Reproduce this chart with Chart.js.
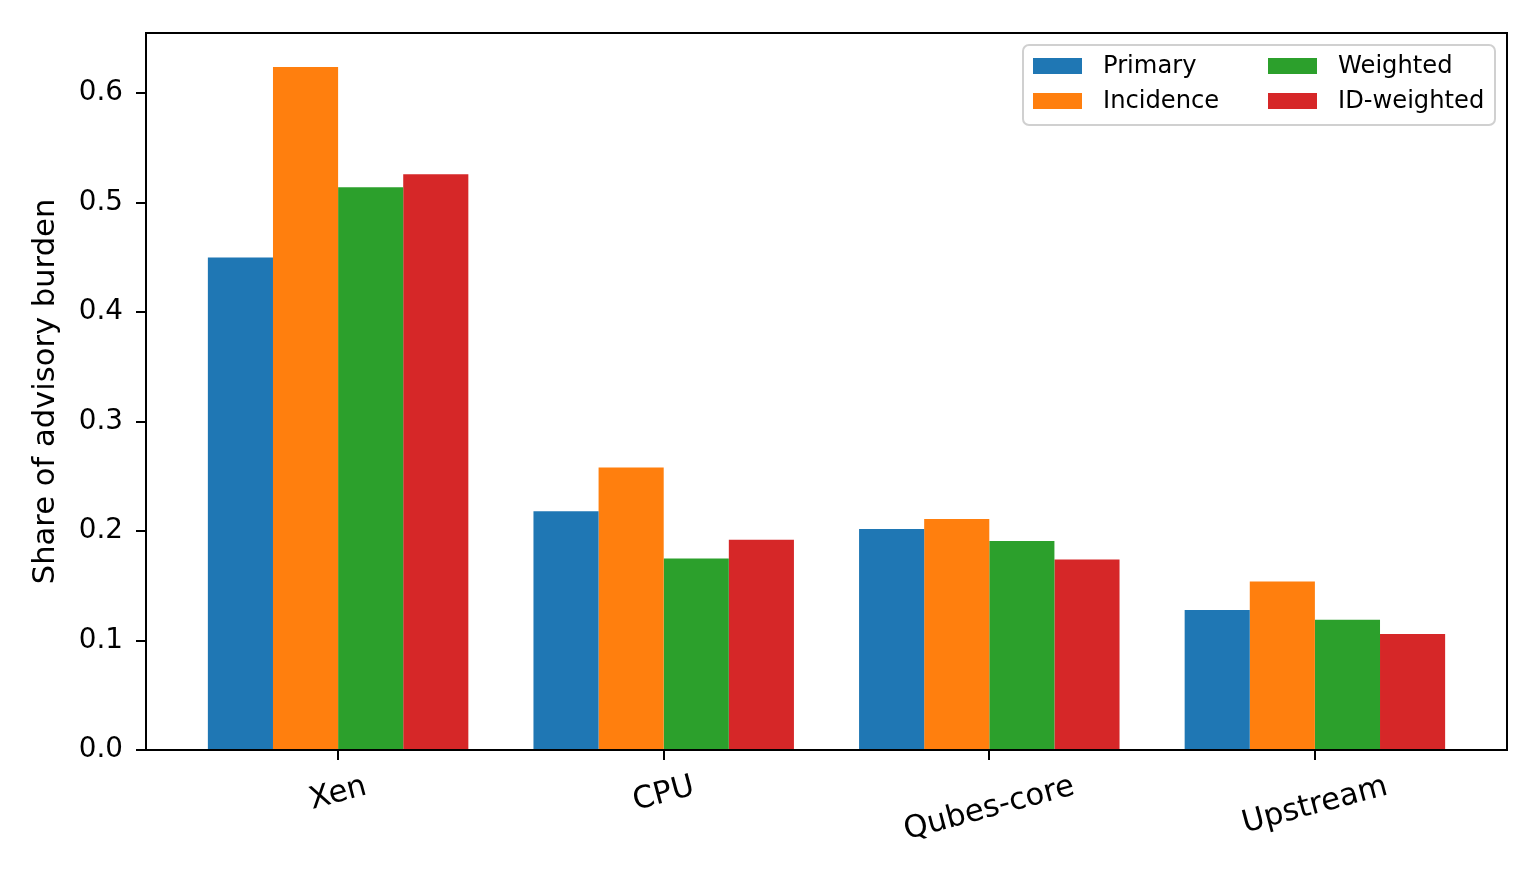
<!DOCTYPE html>
<html>
<head>
<meta charset="utf-8">
<script src="https://cdn.jsdelivr.net/npm/chart.js@4.4.1/dist/chart.umd.min.js"></script>
<style>
  html, body { margin: 0; padding: 0; background: #fff; }
  #wrap { width: 1540px; height: 880px; position: relative; }
</style>
</head>
<body>
<div id="wrap"><canvas id="burden-chart"></canvas></div>
<script>
/* share of advisory burden by component */
const categories = ['Xen', 'CPU', 'Qubes-core', 'Upstream'];
const seriesNames = ['Primary', 'Incidence', 'Weighted', 'ID-weighted'];
const primary    = [0.450, 0.218, 0.202, 0.128];
const incidence  = [0.624, 0.258, 0.211, 0.154];
const weighted   = [0.514, 0.175, 0.191, 0.119];
const idWeighted = [0.526, 0.192, 0.174, 0.106];
const yTicks = [0.0, 0.1, 0.2, 0.3, 0.4, 0.5, 0.6];

const colors = ['#1f77b4', '#ff7f0e', '#2ca02c', '#d62728'];
const FONT = 'DejaVu Sans';

function toPoints(vals) {
  return vals.map((v, i) => ({ x: i, y: v }));
}

const seriesValues = [primary, incidence, weighted, idWeighted];
const datasets = seriesNames.map((name, k) => ({
  label: name,
  data: toPoints(seriesValues[k]),
  backgroundColor: colors[k],
  borderWidth: 0,
  categoryPercentage: 0.8,
  barPercentage: 1.0
}));

// frame around the plot area (matplotlib-style spines)
const framePlugin = {
  id: 'frame',
  afterDatasetsDraw(chart) {
    const { ctx, chartArea: a } = chart;
    ctx.save();
    ctx.strokeStyle = '#000';
    ctx.lineWidth = 2;
    ctx.strokeRect(a.left, a.top, a.right - a.left, a.bottom - a.top);
    ctx.restore();
  }
};

// rotated, centred category labels
const xLabelPlugin = {
  id: 'xLabels',
  afterDraw(chart) {
    const { ctx } = chart;
    const xs = chart.scales.x;
    const size = 30.6;
    const ang = 15 * Math.PI / 180;
    const top = chart.chartArea.bottom + 20;
    ctx.save();
    ctx.font = `${size}px "${FONT}"`;
    ctx.fillStyle = '#000';
    ctx.textAlign = 'center';
    ctx.textBaseline = 'middle';
    categories.forEach((c, i) => {
      const w = ctx.measureText(c).width;
      const h = size * 1.1;
      const bh = w * Math.sin(ang) + h * Math.cos(ang);
      const x = xs.getPixelForValue(i);
      const y = top + bh / 2;
      ctx.save();
      ctx.translate(x, y);
      ctx.rotate(-ang);
      ctx.fillText(c, 0, 0);
      ctx.restore();
    });
    ctx.restore();
  }
};

// two-column legend, column-major like matplotlib ncol=2
const legendPlugin = {
  id: 'colLegend',
  afterDraw(chart) {
    const { ctx } = chart;
    const ds = chart.data.datasets;
    const box = { x: 1023, y: 45, w: 472, h: 80 };
    ctx.save();
    ctx.fillStyle = 'rgba(255,255,255,0.8)';
    ctx.strokeStyle = '#d0d0d0';
    ctx.lineWidth = 2;
    ctx.beginPath();
    ctx.roundRect(box.x, box.y, box.w, box.h, 6);
    ctx.fill();
    ctx.stroke();
    ctx.font = `24.2px "${FONT}"`;
    ctx.textAlign = 'left';
    ctx.textBaseline = 'middle';
    const colX = [1033, 1268];
    const rowY = [66, 101];
    ds.forEach((d, k) => {
      const col = Math.floor(k / 2), row = k % 2;
      ctx.fillStyle = d.backgroundColor;
      ctx.fillRect(colX[col], rowY[row] - 8, 49, 16);
      ctx.fillStyle = '#000';
      ctx.fillText(d.label, colX[col] + 70, rowY[row] + 1);
    });
    ctx.restore();
  }
};

new Chart(document.getElementById('burden-chart'), {
  type: 'bar',
  data: { datasets },
  options: {
    responsive: true,
    maintainAspectRatio: false,
    animation: false,
    layout: { padding: { top: 33, right: 33, left: 0, bottom: 0 } },
    plugins: {
      legend: { display: false },
      tooltip: { enabled: false }
    },
    scales: {
      x: {
        type: 'linear',
        min: -0.59,
        max: 3.59,
        offset: false,
        border: { display: false },
        grid: { display: true, offset: false, drawOnChartArea: false, drawTicks: true, tickLength: 10, color: '#000', lineWidth: 2 },
        ticks: { display: false, stepSize: 1, includeBounds: false },
        afterFit(s) { s.height = 130; }
      },
      y: {
        min: 0,
        max: 0.655,
        border: { display: false },
        grid: { display: true, drawOnChartArea: false, drawTicks: true, tickLength: 10, color: '#000', lineWidth: 2 },
        afterBuildTicks(s) { s.ticks = yTicks.map(v => ({ value: v })); },
        ticks: {
          padding: 13,
          color: '#000',
          font: { family: FONT, size: 27.8 },
          callback: v => v.toFixed(1)
        },
        title: {
          display: true,
          text: 'Share of advisory burden',
          color: '#000',
          font: { family: FONT, size: 30.6 },
          padding: { top: 28, bottom: 0 }
        },
        afterFit(s) { s.width = 146; }
      }
    }
  },
  plugins: [framePlugin, xLabelPlugin, legendPlugin]
});
</script>
</body>
</html>
